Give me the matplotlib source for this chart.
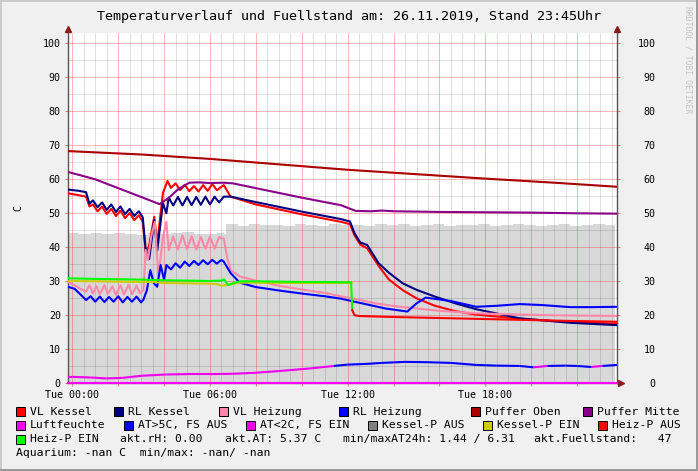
import numpy as np
import matplotlib
matplotlib.use("Agg")
import matplotlib.pyplot as plt
import matplotlib.ticker as mticker
from matplotlib.patches import Rectangle
from matplotlib.collections import LineCollection

plt.rcParams['font.family'] = ['DejaVu Sans Mono']

# ---- data (hours since Tue 00:00, values in C) ----
fuell_t = [-0.2, 0.3, 0.8, 1.3, 1.8, 2.3, 2.8, 3.3, 3.8, 4.3, 4.8, 5.3, 5.8, 6.3, 6.6,
           6.7, 7.2, 7.7, 8.2, 8.7, 9.2, 9.7, 10.2, 10.7, 11.2, 11.7, 12.2, 12.7, 13.2,
           13.7, 14.2, 14.7, 15.2, 15.7, 16.2, 16.7, 17.2, 17.7, 18.2, 18.7, 19.2, 19.7,
           20.2, 20.7, 21.2, 21.7, 22.2, 22.7, 23.2, 23.65]
fuell = [44.1, 43.8, 44.2, 43.9, 44.3, 44.0, 43.7, 44.2, 43.9, 44.1, 44.4, 44.0, 43.8, 44.2, 44.0,
         46.8, 46.4, 46.9, 46.5, 46.7, 46.3, 46.8, 46.6, 46.4, 46.9, 46.5, 46.7, 46.3, 46.8,
         46.5, 46.9, 46.4, 46.6, 46.8, 46.3, 46.7, 46.5, 46.9, 46.4, 46.6, 46.8, 46.5,
         46.3, 46.7, 46.9, 46.4, 46.6, 46.8, 46.5, 46.7]

vl_kessel_t = [-0.2, 0.3, 0.6, 0.75, 0.9, 1.1, 1.3, 1.5, 1.7, 1.9, 2.1, 2.3, 2.5, 2.7, 2.9, 3.07,
               3.2, 3.35, 3.57, 3.7, 3.95, 4.15, 4.3, 4.5, 4.7, 4.9, 5.1, 5.3, 5.5, 5.7, 5.9,
               6.1, 6.3, 6.6, 6.9, 8, 10, 11.7, 12.1, 12.3, 12.55, 12.85, 13.35, 13.8, 14.4,
               15.0, 15.8, 16.7, 17.6, 19.5, 21.7, 23.75]
vl_kessel = [55.9, 55.3, 54.9, 52.0, 52.6, 50.6, 52.0, 49.8, 51.3, 49.2, 50.8, 48.6, 50.1, 48.0, 49.4, 47.5,
             38.3, 40.5, 49.0, 41.0, 56.0, 59.5, 57.5, 58.8, 56.8, 58.4, 56.5, 58.0, 56.4, 58.3, 56.6,
             58.6, 56.8, 58.3, 54.9, 52.6, 49.7, 47.5, 46.8, 43.5, 40.8, 39.7, 34.5, 30.5, 27.4,
             25.0, 22.8, 21.2, 20.2, 19.0, 18.0, 17.5]

rl_kessel_t = [-0.2, 0.3, 0.6, 0.75, 0.9, 1.1, 1.3, 1.5, 1.7, 1.9, 2.1, 2.3, 2.5, 2.7, 2.9, 3.07,
               3.2, 3.35, 3.57, 3.7, 3.95, 4.1, 4.2, 4.4, 4.6, 4.8, 5.0, 5.2, 5.4, 5.6, 5.8,
               6.0, 6.2, 6.4, 6.6, 6.9, 8, 10, 11.7, 12.1, 12.3, 12.55, 12.85, 13.35, 13.8,
               14.4, 15.0, 15.8, 16.7, 17.6, 19.5, 21.7, 23.75]
rl_kessel = [57.0, 56.6, 56.2, 52.8, 53.8, 51.8, 53.2, 51.0, 52.6, 50.4, 52.0, 49.8, 51.3, 49.2, 50.6, 48.8,
             39.2, 36.5, 48.0, 39.0, 53.0, 50.0, 54.6, 52.3, 54.8, 52.3, 54.8, 52.4, 54.8, 52.5, 54.9,
             52.6, 54.9, 53.2, 54.9, 54.9, 53.3, 50.5, 48.3, 47.6, 44.1, 41.4, 40.7, 35.3, 32.5,
             29.4, 27.5, 25.5, 23.5, 21.8, 19.1, 17.8, 17.1]

vl_heiz_t = [-0.2, 0.1, 0.4, 0.6, 0.75, 0.9, 1.05, 1.2, 1.4, 1.55, 1.75, 1.9, 2.1, 2.25, 2.45, 2.6,
             2.8, 2.95, 3.1, 3.2, 3.3, 3.45, 3.6, 3.75, 3.95, 4.1, 4.2, 4.4, 4.6, 4.8, 5.0, 5.2,
             5.4, 5.6, 5.8, 6.0, 6.2, 6.4, 6.6, 6.75, 6.9, 7.3, 8, 9, 10, 11, 11.7, 12.5, 13.2,
             14.3, 16, 17.6, 19, 21, 23.75]
vl_heiz = [29.9, 28.8, 27.6, 27.0, 28.8, 26.4, 28.6, 26.2, 28.9, 26.3, 28.5, 26.0, 28.8, 26.1, 29.0, 26.2,
           28.7, 26.5, 27.5, 39.2, 36.3, 43.5, 47.5, 31.4, 43.0, 47.5, 39.2, 43.2, 39.3, 43.5, 39.4, 43.3,
           39.3, 43.0, 39.5, 43.2, 39.6, 43.0, 42.5, 37.0, 33.3, 31.4, 30.2, 28.7, 27.6, 26.6, 25.6, 24.6, 23.5,
           22.5, 21.3, 20.6, 20.3, 20.0, 19.8]

rl_heiz_t = [-0.2, 0.1, 0.3, 0.6, 0.8, 1.0, 1.2, 1.4, 1.6, 1.8, 2.0, 2.2, 2.4, 2.6, 2.8, 3.0, 3.1,
             3.25, 3.4, 3.55, 3.7, 3.85, 4.0, 4.1, 4.3, 4.5, 4.7, 4.9, 5.1, 5.3, 5.5, 5.7, 5.9,
             6.1, 6.3, 6.5, 6.6, 6.9, 7.3, 8, 9, 10, 11, 11.7, 12.3, 13.65, 14.6, 15.0, 15.4,
             16.5, 17.6, 18.5, 19.5, 20.5, 21.7, 22.7, 23.75]
rl_heiz = [28.4, 27.8, 26.5, 24.5, 25.6, 24.0, 25.5, 23.9, 25.4, 24.0, 25.6, 23.8, 25.4, 24.0, 25.5, 23.8, 24.6,
           27.4, 33.3, 29.5, 28.4, 34.8, 30.4, 34.8, 33.5, 35.3, 34.0, 35.8, 34.5, 36.0, 34.8, 36.2, 35.0,
           36.3, 35.2, 36.3, 35.8, 32.4, 29.6, 28.3, 27.3, 26.4, 25.6, 24.9, 24.0, 22.0, 21.1, 23.5, 25.2,
           24.2, 22.5, 22.8, 23.3, 23.0, 22.4, 22.4, 22.5]

puffer_oben_t = [-0.2, 3, 6, 9, 12, 15, 18, 21, 23.75]
puffer_oben = [68.3, 67.3, 66.0, 64.4, 62.8, 61.5, 60.2, 59.0, 57.8]

puffer_mitte_t = [-0.2, 1, 2, 3, 3.8, 4.2, 4.6, 5.1, 5.5, 6.0, 6.6, 7, 8, 9, 10, 11, 11.7, 12.35,
                  13, 13.5, 14, 16, 18, 20, 22, 23.75]
puffer_mitte = [62.2, 60.0, 57.4, 54.8, 52.7, 54.5, 57.0, 59.0, 59.1, 58.9, 59.0, 58.8, 57.4, 56.0,
                54.6, 53.3, 52.4, 50.7, 50.6, 50.8, 50.6, 50.4, 50.3, 50.2, 50.0, 49.9]

luftfeuchte_t = [-0.2, 23.75]
luftfeuchte = [0.0, 0.0]

at_t = [-0.2, 0, 0.8, 1.5, 2.2, 3, 4.1, 5, 6, 7, 8, 9, 10.4, 11.4, 12, 12.8, 13.5, 14.5, 15.5,
        16.5, 17.6, 18.5, 19.5, 20.1, 20.7, 21.5, 22.0, 22.6, 23.1, 23.75]
at = [1.9, 1.9, 1.7, 1.44, 1.6, 2.2, 2.6, 2.7, 2.7, 2.8, 3.1, 3.6, 4.4, 5.1, 5.5, 5.7, 6.0, 6.3, 6.2,
      6.0, 5.4, 5.2, 5.1, 4.7, 5.1, 5.2, 5.1, 4.8, 5.1, 5.4]

kessel_ein_t = [-0.2, 1, 2, 3, 3.5, 4, 5, 6, 6.3, 6.5, 6.8, 7.3, 8, 10, 12, 12.17]
kessel_ein = [30.1, 30.0, 29.9, 29.8, 29.8, 29.5, 29.4, 29.3, 29.2, 28.7, 29.0, 29.6, 29.6, 29.5, 29.5, 29.5]

heiz_ein_t = [-0.2, 1, 2, 3, 4, 5, 6, 6.5, 6.6, 6.8, 7.0, 7.3, 8, 9, 10, 11, 12, 12.15, 12.2]
heiz_ein = [30.9, 30.7, 30.6, 30.5, 30.3, 30.2, 30.1, 30.2, 30.6, 28.9, 29.4, 30.0, 30.0, 29.9,
            29.8, 29.8, 29.7, 29.7, 21.5]
heiz_aus_t = [12.2, 12.3, 12.5, 14, 16, 18, 20, 22, 23.75]
heiz_aus = [21.5, 20.0, 19.8, 19.5, 19.2, 18.9, 18.6, 18.3, 18.1]

AT_LIMIT = 5.0

# ---- colours ----
C_VLK = '#FF0000'
C_RLK = '#000080'
C_VLH = '#FF88AA'
C_RLH = '#0000FF'
C_PO = '#AA0000'
C_PM = '#880088'
C_LF = '#FF00FF'
C_ATHI = '#0000FF'
C_ATLO = '#EE00EE'
C_KAUS = '#808080'
C_KEIN = '#CCCC00'
C_HAUS = '#FF0000'
C_HEIN = '#00FF00'
C_FILL = '#D8D8D8'

W, H = 698, 471
fig = plt.figure(figsize=(W / 100, H / 100), dpi=100, facecolor='#F0F0F0')

# 3d frame like rrdtool
fig.add_artist(Rectangle((0, 1 - 2 / H), 1, 2 / H, transform=fig.transFigure, color='#CBCBCB', lw=0))
fig.add_artist(Rectangle((0, 0), 2 / W, 1, transform=fig.transFigure, color='#CBCBCB', lw=0))
fig.add_artist(Rectangle((0, 0), 1, 2 / H, transform=fig.transFigure, color='#999999', lw=0))
fig.add_artist(Rectangle((1 - 2 / W, 0), 2 / W, 1, transform=fig.transFigure, color='#999999', lw=0))

left, right, top, bottom = 67.7, 617.3, 33.0, 383.3
ax = fig.add_axes([left / W, 1 - bottom / H, (right - left) / W, (bottom - top) / H])
ax.set_facecolor('white')
ax.set_xlim(-0.2, 23.75)
ax.set_ylim(0, (bottom - top) / 3.4)

ax.fill_between(fuell_t, fuell, 0, step='post', color=C_FILL, lw=0, zorder=1)

lw = 1.5
ax.plot(vl_kessel_t, vl_kessel, color=C_VLK, lw=lw, zorder=3)
ax.plot(rl_kessel_t, rl_kessel, color=C_RLK, lw=lw, zorder=3)
ax.plot(vl_heiz_t, vl_heiz, color=C_VLH, lw=lw, zorder=3)
ax.plot(rl_heiz_t, rl_heiz, color=C_RLH, lw=lw, zorder=3)
ax.plot(puffer_oben_t, puffer_oben, color=C_PO, lw=lw, zorder=3)
ax.plot(puffer_mitte_t, puffer_mitte, color=C_PM, lw=lw, zorder=3)
ax.plot(luftfeuchte_t, luftfeuchte, color=C_LF, lw=lw, zorder=4, clip_on=False)

pts = np.column_stack([at_t, at])
segs = [pts[i:i + 2] for i in range(len(pts) - 1)]
seg_cols = [C_ATHI if at[i] >= AT_LIMIT else C_ATLO for i in range(len(pts) - 1)]
ax.add_collection(LineCollection(segs, colors=seg_cols, linewidths=lw, zorder=3))

ax.plot(kessel_ein_t, kessel_ein, color=C_KEIN, lw=lw, zorder=3)
ax.plot(heiz_ein_t, heiz_ein, color=C_HEIN, lw=lw, zorder=3)
ax.plot(heiz_aus_t, heiz_aus, color=C_HAUS, lw=lw, zorder=3)

# ticks
ax.xaxis.set_major_locator(mticker.MultipleLocator(2))
ax.xaxis.set_minor_locator(mticker.MultipleLocator(0.5))
ax.yaxis.set_major_locator(mticker.MultipleLocator(10))
ax.yaxis.set_minor_locator(mticker.MultipleLocator(5))
ax.xaxis.set_major_formatter(mticker.FuncFormatter(
    lambda v, p: "Tue %02d:00" % int(round(v)) if int(round(v)) % 6 == 0 else ""))

ax.tick_params(which='both', labelsize=7.2, labelcolor='black')
ax.tick_params(axis='y', which='major', length=2, pad=3, color='#E08080')
ax.tick_params(axis='x', which='major', length=2, pad=2.5, color='#E08080')
ax.tick_params(which='minor', length=0)

# grid (above the fill, below the lines)
ax.set_axisbelow('line')
ax.grid(which='major', color='#FF0000', alpha=0.28, lw=0.7)
ax.grid(which='minor', color='#000000', alpha=0.12, lw=0.7)

for s in ['top', 'right']:
    ax.spines[s].set_visible(False)
ax.spines['left'].set_color('#555555')
ax.spines['bottom'].set_color('#555555')
ax.spines['left'].set_linewidth(1)
ax.spines['bottom'].set_linewidth(1)

sec = ax.secondary_yaxis('right')
sec.yaxis.set_major_locator(mticker.MultipleLocator(10))
sec.tick_params(labelsize=7.2, length=2, pad=25.5, color='#E08080')
sec.spines['right'].set_color('#555555')
sec.spines['right'].set_linewidth(1)
for lbl in sec.get_yticklabels():
    lbl.set_horizontalalignment('right')

# axis arrows
arrow_c = '#8B1A1A'
ax.plot([0], [1.012], marker='^', ms=4.5, color=arrow_c, transform=ax.transAxes, clip_on=False)
ax.plot([1], [1.012], marker='^', ms=4.5, color=arrow_c, transform=ax.transAxes, clip_on=False)
ax.plot([1.006], [0], marker='>', ms=4.5, color=arrow_c, transform=ax.transAxes, clip_on=False)

ax.set_ylabel('C', fontsize=7.2, labelpad=14)

fig.text(0.5, 1 - 16.5 / H, 'Temperaturverlauf und Fuellstand am: 26.11.2019, Stand 23:45Uhr',
         ha='center', va='center', fontsize=9.6)
fig.text(688 / W, 1 - 6 / H, 'RRDTOOL / TOBI OETIKER', rotation=270, ha='center', va='top',
         fontsize=5.9, color='#C4C4C4')

# legend
LEG_FS = 8.2
row_y = [411.7, 425.3, 439.3, 452.7]
legend_rows = [
    [(30, 'VL Kessel', C_VLK), (128.3, 'RL Kessel', C_RLK), (232.7, 'VL Heizung', C_VLH),
     (352.7, 'RL Heizung', C_RLH), (485, 'Puffer Oben', C_PO), (596.7, 'Puffer Mitte', C_PM)],
    [(30, 'Luftfeuchte', C_LF), (137.7, 'AT>5C, FS AUS', C_ATHI), (260, 'AT<2C, FS EIN', C_ATLO),
     (381.7, 'Kessel-P AUS', C_KAUS), (496.7, 'Kessel-P EIN', C_KEIN), (611.7, 'Heiz-P AUS', C_HAUS)],
    [(30, 'Heiz-P EIN', C_HEIN)],
]
for y, row in zip(row_y, legend_rows):
    for tx, name, col in row:
        fig.add_artist(Rectangle(((tx - 14) / W, 1 - (y + 4.5) / H), 9 / W, 9 / H,
                                 transform=fig.transFigure, facecolor=col, edgecolor='black', lw=0.7))
        fig.text(tx / W, 1 - y / H, name, ha='left', va='center', fontsize=LEG_FS)

info_row = [(120, 'akt.rH: 0.00'), (225, 'akt.AT: 5.37 C'), (343.3, 'min/maxAT24h: 1.44 / 6.31'),
            (534.3, 'akt.Fuellstand:   47')]
for tx, s in info_row:
    fig.text(tx / W, 1 - row_y[2] / H, s, ha='left', va='center', fontsize=LEG_FS)
fig.text(16 / W, 1 - row_y[3] / H, 'Aquarium: -nan C  min/max: -nan/ -nan', ha='left', va='center',
         fontsize=LEG_FS)

fig.savefig('out.png', dpi=100, facecolor=fig.get_facecolor())
